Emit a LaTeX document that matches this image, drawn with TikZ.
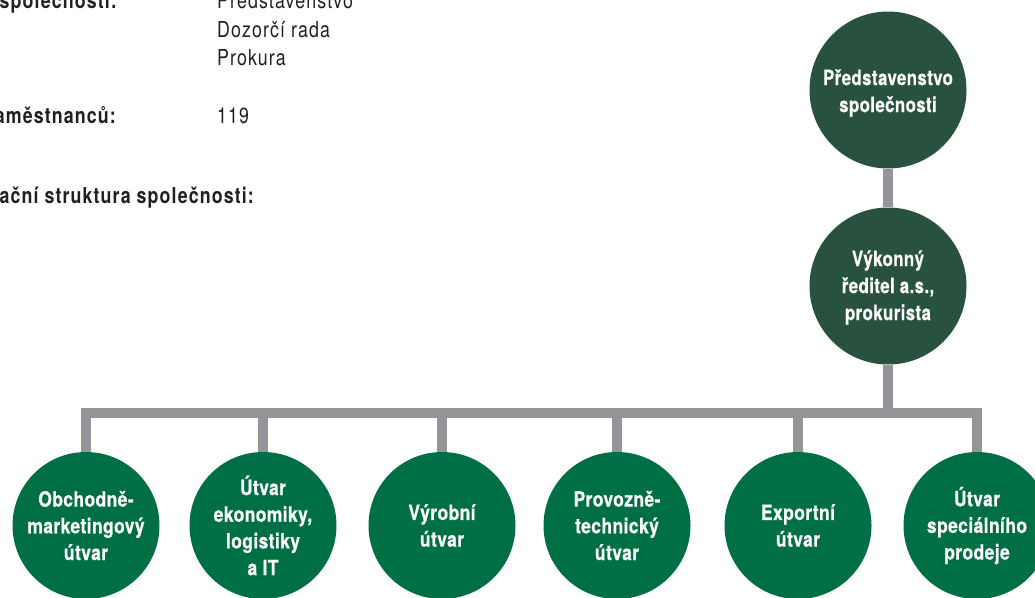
\documentclass[tikz,border=0pt]{standalone}
\usepackage{fontspec}
\setmainfont{TeX Gyre Heros}
\newfontfamily\condbot{TeX Gyre Heros}[FakeStretch=0.83,LetterSpace=2,FakeBold=0.6]
\newfontfamily\condtop{TeX Gyre Heros}[FakeStretch=0.80,LetterSpace=2,FakeBold=0.6]
\newfontfamily\condtxt{TeX Gyre Heros}[FakeStretch=0.81,LetterSpace=5]
\definecolor{darkgr}{HTML}{28513F}
\definecolor{midgr}{HTML}{006F46}
\definecolor{bargray}{HTML}{939598}
\definecolor{ink}{HTML}{231F20}
\tikzset{
  topcirc/.style={circle,fill=darkgr,minimum size=157pt,inner sep=0pt},
  botcirc/.style={circle,fill=midgr,minimum size=147pt,inner sep=0pt},
  toptext/.style={text=white,align=center,font=\condtop\bfseries\fontsize{21}{27}\selectfont,inner sep=0pt},
  bottext/.style={text=white,align=center,font=\condbot\bfseries\fontsize{21}{26.7}\selectfont,inner sep=0pt},
  bar/.style={draw=bargray,line width=10.5pt,line join=miter,line cap=butt},
  lbl/.style={text=ink,font=\condtxt\bfseries\fontsize{22}{28}\selectfont,inner sep=0pt,anchor=base east},
  val/.style={text=ink,font=\condtxt\fontsize{22}{28}\selectfont,inner sep=0pt,anchor=base west,align=left}
}
\begin{document}
\begin{tikzpicture}[x=1pt,y=-1pt]
\useasboundingbox (0,0) rectangle (1035,597);
% left texts
\node[lbl] (l1) at (117,9) {společnosti:};
\node[val] (v1a) at (217,9) {Představenstvo};
\node[val] (v1b) at (217,37) {Dozorčí rada};
\node[val] (v1c) at (217,65) {Prokura};
\node[lbl] (l2) at (116,123) {aměstnanců:};
\node[val] (v2) at (217,123) {119};
\node[lbl] (l3) at (254,203) {ační struktura společnosti:};
% circles
\node[topcirc] (board) at (888,90) {};
\node[toptext,yshift=-3pt] at (board) {Představenstvo\\společnosti};
\node[topcirc] (exec) at (888,286) {};
\node[toptext,yshift=-1.5pt] at (exec) {Výkonný\\ředitel a.s.,\\prokurista};
\node[botcirc] (b1) at (86,525.5) {};
\node[botcirc] (b2) at (263,525.5) {};
\node[botcirc] (b3) at (442,525.5) {};
\node[botcirc] (b4) at (617,525.5) {};
\node[botcirc] (b5) at (798,525.5) {};
\node[botcirc] (b6) at (977,525.5) {};
\node[bottext] at (b1) {Obchodně-\\marketingový\\útvar};
\node[bottext] at (b2) {Útvar\\ekonomiky,\\logistiky\\a IT};
\node[bottext] at (b3) {Výrobní\\útvar};
\node[bottext] at (b4) {Provozně-\\technický\\útvar};
\node[bottext] at (b5) {Exportní\\útvar};
\node[bottext] at (b6) {Útvar\\speciálního\\prodeje};
% connectors
\coordinate (bus) at (888,413);
\draw[bar] (board.south) -- (exec.north);
\draw[bar] (exec.south) -- (bus);
\draw[bar] (b1.north) -- (b1.north |- bus) -- (b6.north |- bus) -- (b6.north);
\draw[bar] (b2.north) -- (b2.north |- bus);
\draw[bar] (b3.north) -- (b3.north |- bus);
\draw[bar] (b4.north) -- (b4.north |- bus);
\draw[bar] (b5.north) -- (b5.north |- bus);
\end{tikzpicture}
\end{document}
